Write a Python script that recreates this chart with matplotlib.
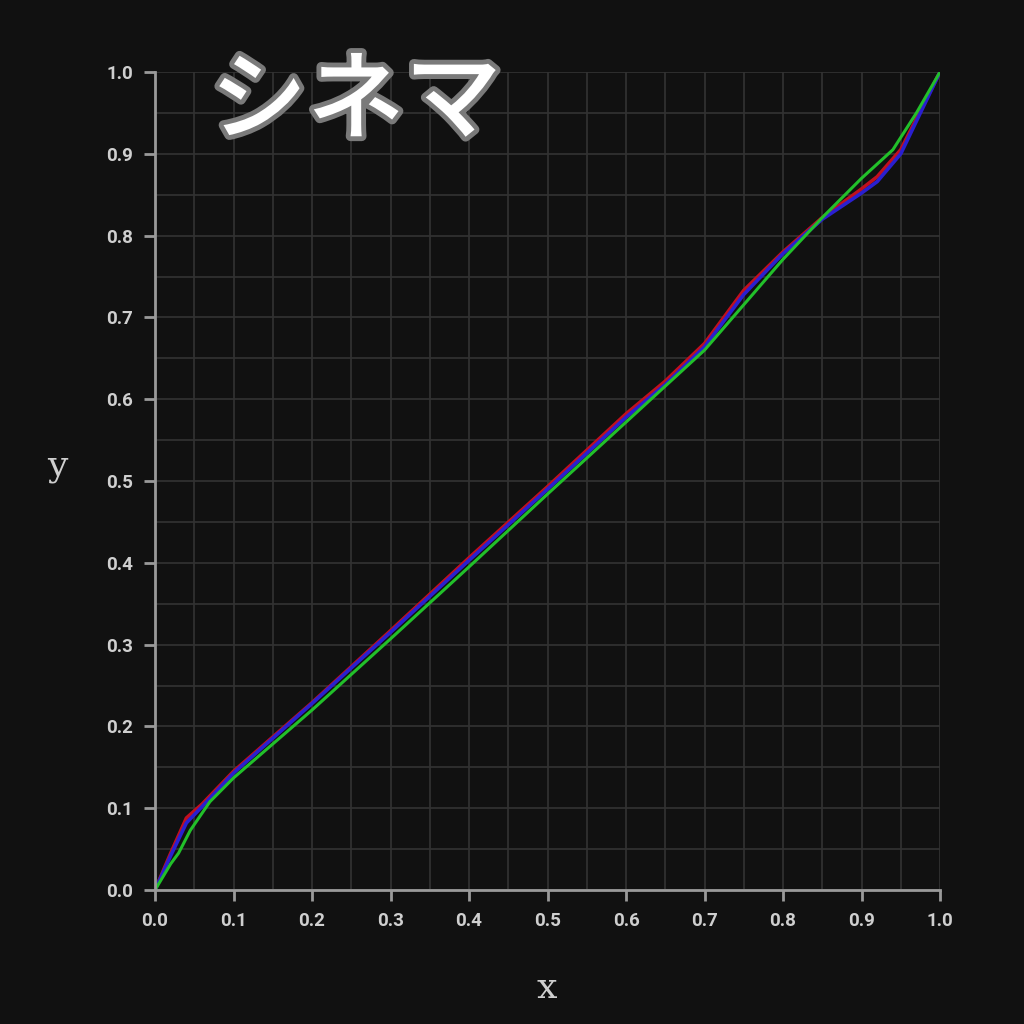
import numpy as np
import matplotlib
matplotlib.use("Agg")
import matplotlib.pyplot as plt
import matplotlib.patheffects as pe
from matplotlib.ticker import MultipleLocator, FormatStrFormatter

# curve samples
red_x = [0, 0.02, 0.04, 0.06, 0.1, 0.2, 0.3, 0.4, 0.5, 0.6, 0.65, 0.7, 0.75, 0.8, 0.85, 0.9, 0.92, 0.95, 1.0]
red_y = [0, 0.045, 0.088, 0.105, 0.145, 0.229, 0.317, 0.406, 0.493, 0.582, 0.622, 0.668, 0.733, 0.780, 0.822, 0.857, 0.872, 0.905, 1.0]

blue_x = [0, 0.02, 0.04, 0.06, 0.1, 0.2, 0.3, 0.4, 0.5, 0.6, 0.65, 0.7, 0.75, 0.8, 0.85, 0.9, 0.92, 0.95, 1.0]
blue_y = [0, 0.042, 0.082, 0.102, 0.143, 0.228, 0.315, 0.403, 0.490, 0.578, 0.618, 0.664, 0.728, 0.778, 0.820, 0.852, 0.866, 0.900, 1.0]

green_x = [0, 0.02, 0.03, 0.045, 0.07, 0.1, 0.2, 0.3, 0.4, 0.5, 0.6, 0.7, 0.8, 0.85, 0.9, 0.94, 0.97, 1.0]
green_y = [0, 0.032, 0.045, 0.073, 0.108, 0.137, 0.220, 0.307, 0.395, 0.484, 0.572, 0.660, 0.771, 0.822, 0.870, 0.905, 0.950, 1.0]

bg = "#111111"
fig = plt.figure(figsize=(10.24, 10.24), dpi=100, facecolor=bg)
ax = fig.add_axes([155 / 1024, 134 / 1024, 785 / 1024, 818 / 1024], facecolor=bg)

ax.set_xlim(0, 1)
ax.set_ylim(0, 1)
ax.xaxis.set_major_locator(MultipleLocator(0.1))
ax.yaxis.set_major_locator(MultipleLocator(0.1))
ax.xaxis.set_minor_locator(MultipleLocator(0.05))
ax.yaxis.set_minor_locator(MultipleLocator(0.05))
ax.grid(True, which="both", color="#333333", linewidth=1.2)
ax.set_axisbelow(True)

for s in ["top", "right"]:
    ax.spines[s].set_visible(False)
for s in ["left", "bottom"]:
    ax.spines[s].set_color("#9a9a9a")
    ax.spines[s].set_linewidth(2)

ax.tick_params(which="major", direction="out", length=8, width=2, color="#9a9a9a",
               labelcolor="#cfcfcf", labelsize=13.5, pad=8)
ax.tick_params(which="minor", length=0)
ax.xaxis.set_major_formatter(FormatStrFormatter("%.1f"))
ax.yaxis.set_major_formatter(FormatStrFormatter("%.1f"))
for lab in ax.get_xticklabels() + ax.get_yticklabels():
    lab.set_fontweight("bold")
    lab.set_family("Roboto")

ax.plot(red_x, red_y, color="#c0101e", linewidth=2.6, solid_capstyle="round", solid_joinstyle="round")
ax.plot(blue_x, blue_y, color="#2a1fd0", linewidth=2.6, solid_capstyle="round", solid_joinstyle="round")
ax.plot(green_x, green_y, color="#22c02a", linewidth=2.2, solid_capstyle="round", solid_joinstyle="round")

fig.text(547 / 1024, 1 - 988 / 1024, "x", family="DejaVu Serif", fontsize=26,
         color="#cfcfcf", ha="center", va="center")
fig.text(57 / 1024, 1 - 466 / 1024, "y", family="DejaVu Serif", fontsize=26,
         color="#cfcfcf", ha="center", va="center")

fig.text(210 / 1024, 1 - 104 / 1024, "シネマ", family=["Noto Sans CJK JP", "DejaVu Sans"],
         fontsize=70, fontweight="medium", color="white", ha="left", va="center",
         path_effects=[pe.withStroke(linewidth=7, foreground="#7a7a7a", joinstyle="round", capstyle="round")])

fig.savefig("out.png", dpi=100, facecolor=bg)
